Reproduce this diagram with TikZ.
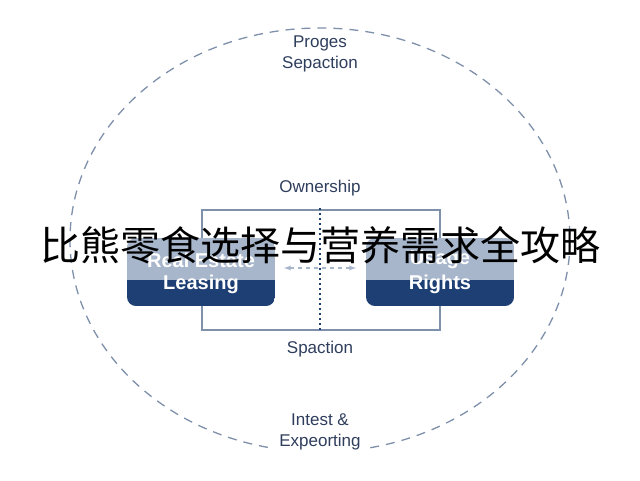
\documentclass[tikz,border=0pt]{standalone}
\usepackage{fontspec}
\setmainfont{Liberation Sans}
\newfontfamily\cjk{Noto Sans CJK SC}
\definecolor{navy}{HTML}{1E3F74}
\definecolor{light}{HTML}{A7B6CB}
\definecolor{txt}{HTML}{2E3E5C}
\definecolor{ln}{HTML}{7F90AB}
\begin{document}
\begin{tikzpicture}[x=1pt,y=-1pt,
  lbl/.style={text=txt,font=\fontsize{17}{21}\selectfont,align=center},
  box/.style={rounded corners=9pt},
  btxt/.style={text=white,font=\bfseries\fontsize{20}{22}\selectfont}]
\useasboundingbox (0,0) rectangle (640,480);
\fill[white] (0,0) rectangle (640,480);
\draw[ln,dash pattern=on 9pt off 7pt,line width=1.3pt] (320,240) ellipse [x radius=250,y radius=212];
\node[lbl,fill=white,inner xsep=8pt] (top) at (320,54) {Proges\\Sepaction};
\node[lbl,fill=white,inner xsep=8pt] (bot) at (320,432) {Intest \&\\Expeorting};
\node[lbl] (own) at (320,188) {Ownership};
\node[lbl] (spa) at (320,349) {Spaction};
\draw[ln,line width=1.2pt] (202,210) rectangle (440,330);
\draw[navy,dash pattern=on 2pt off 3pt,line width=1.5pt] (320,208) -- (320,332);
\begin{scope}
\clip[box] (127,238) rectangle (275,306);
\fill[light] (127,238) rectangle (275,280);
\fill[navy] (127,280) rectangle (275,306);
\end{scope}
\begin{scope}
\clip[box] (366,238) rectangle (514,306);
\fill[light] (366,238) rectangle (514,280);
\fill[navy] (366,280) rectangle (514,306);
\end{scope}
\node[btxt] (l1) at (201,260) {Real Estate};
\node[btxt] (l2) at (201,284) {Leasing};
\node[btxt] (r1) at (440,260) {Usage};
\node[btxt] (r2) at (440,284) {Rights};
\coordinate (al) at (284,268);
\coordinate (ar) at (356,268);
\draw[light,dash pattern=on 4pt off 4pt,line width=1.3pt,<->,>=latex] (al) -- (ar);
\node[font=\cjk\fontsize{40}{44}\selectfont,text=black] (cn) at (320,245) {比熊零食选择与营养需求全攻略};
\end{tikzpicture}
\end{document}
